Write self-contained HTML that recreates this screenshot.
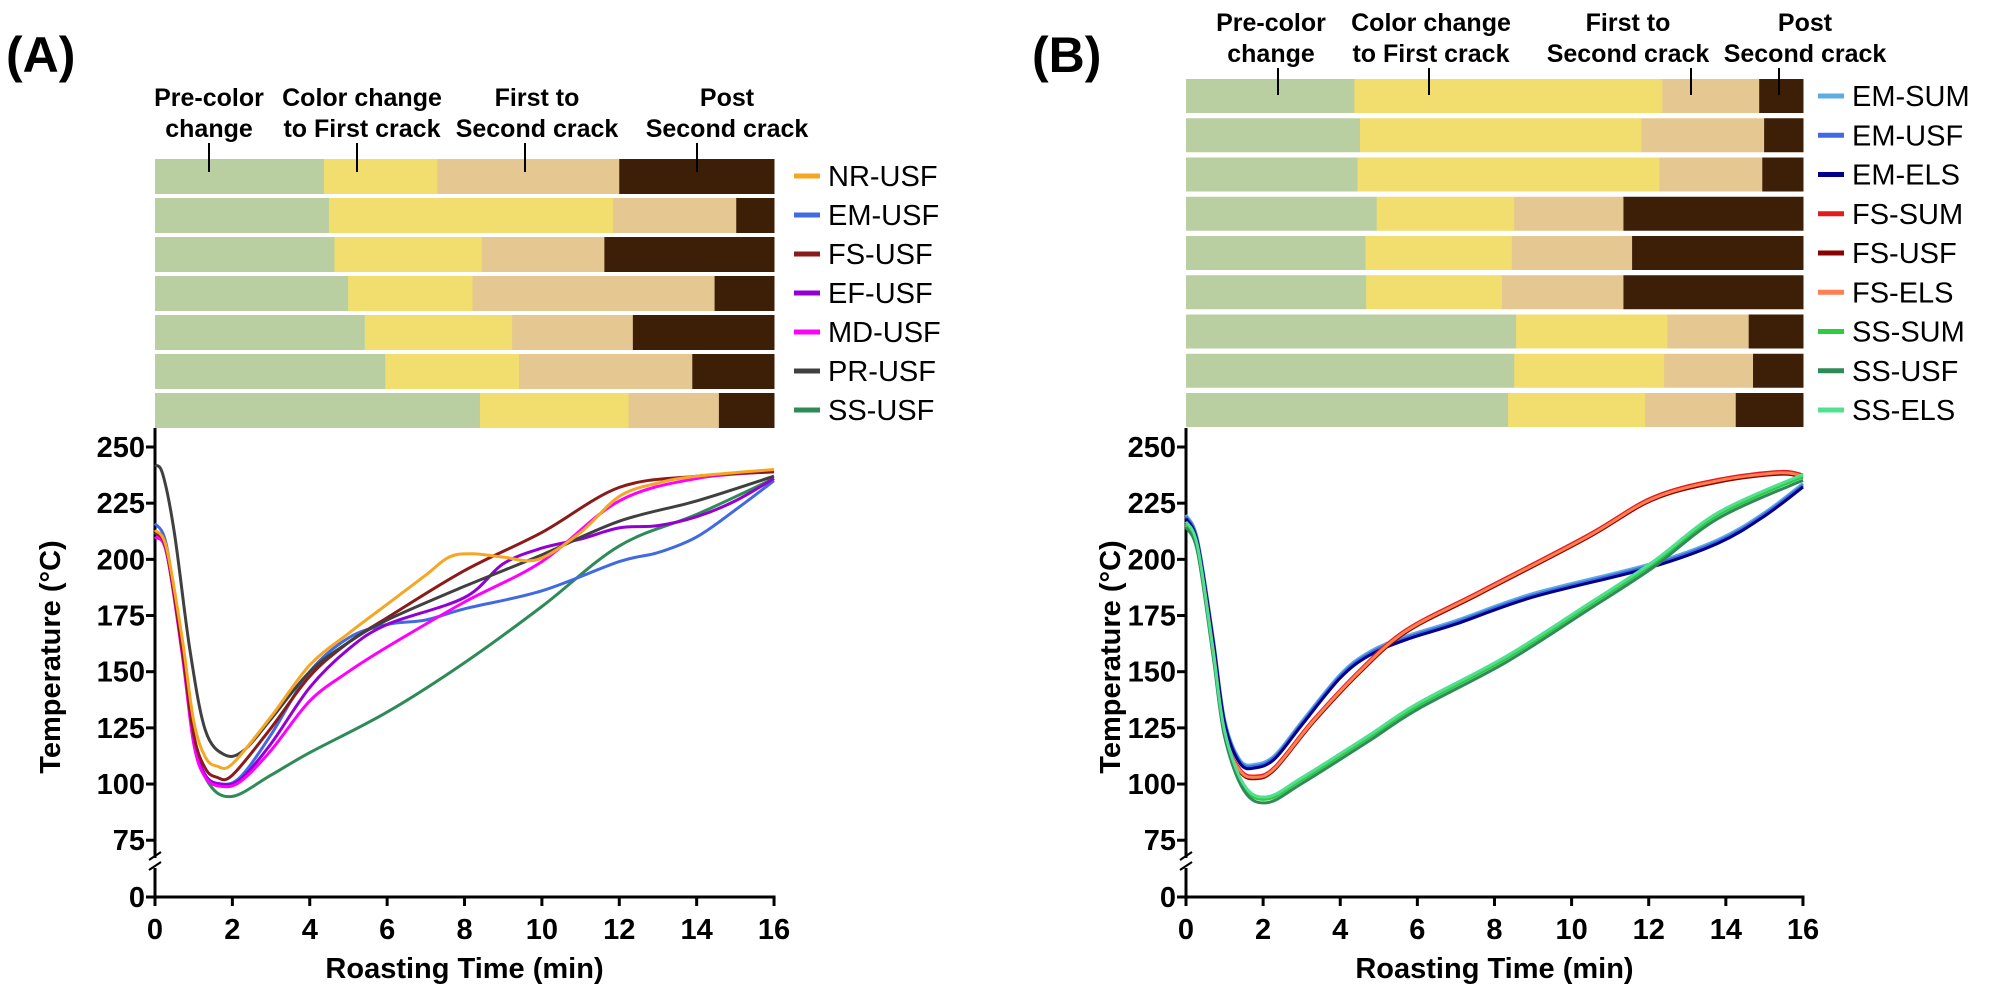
<!DOCTYPE html>
<html><head><meta charset="utf-8">
<style>
html,body{margin:0;padding:0;background:#fff;}
svg{display:block;}
text{font-family:"Liberation Sans",Arial,sans-serif;fill:#000;}
.b{font-weight:bold;}
</style></head>
<body>
<svg id="s" width="2008" height="1000" viewBox="0 0 2008 1000" xmlns="http://www.w3.org/2000/svg">
<rect width="2008" height="1000" fill="#fff"/>
<text x="6" y="72" class="b" font-size="50">(A)</text>
<text x="1032" y="72" class="b" font-size="50">(B)</text>
<g id="g"></g>
</svg>
<script>
const NS="http://www.w3.org/2000/svg";
const g=document.getElementById('g');
function el(t,a,txt){const e=document.createElementNS(NS,t);for(const k in a)e.setAttribute(k,a[k]);if(txt!==undefined)e.textContent=txt;g.appendChild(e);return e;}
const C=['#b9cfa2','#f2de6e','#e5c792','#3d1f08'];
function bars(x0,x1,top,pitch,h,rows){
  const w=x1-x0;
  rows.forEach((r,i)=>{const y=top+i*pitch;let p=[0,...r,1];
    for(let k=0;k<4;k++)el('rect',{x:x0+p[k]*w,y:y,width:(p[k+1]-p[k])*w+0.5,height:h,fill:C[k]});});
}
function cat(pts){let d='M'+pts[0][0].toFixed(1)+','+pts[0][1].toFixed(1);
  for(let i=0;i<pts.length-1;i++){const p0=pts[Math.max(0,i-1)],p1=pts[i],p2=pts[i+1],p3=pts[Math.min(pts.length-1,i+2)];
    const c1=[p1[0]+(p2[0]-p0[0])/6,p1[1]+(p2[1]-p0[1])/6],c2=[p2[0]-(p3[0]-p1[0])/6,p2[1]-(p3[1]-p1[1])/6];
    d+='C'+c1.map(v=>v.toFixed(1))+' '+c2.map(v=>v.toFixed(1))+' '+p2.map(v=>v.toFixed(1));}
  return d;}
function axes(x0,unit,labRight,ylabX){
  const Y=v=>447+(250-v)*2.247;
  el('line',{x1:x0,y1:428,x2:x0,y2:858,stroke:'#000','stroke-width':3});
  el('line',{x1:x0,y1:868,x2:x0,y2:897,stroke:'#000','stroke-width':3});
  el('line',{x1:x0-6,y1:860,x2:x0+6,y2:852,stroke:'#000','stroke-width':2});
  el('line',{x1:x0-6,y1:870,x2:x0+6,y2:862,stroke:'#000','stroke-width':2});
  el('line',{x1:x0-1.5,y1:897,x2:x0+16*unit+1.5,y2:897,stroke:'#000','stroke-width':3});
  [250,225,200,175,150,125,100,75].forEach(v=>{const y=Y(v);el('line',{x1:x0-9,y1:y,x2:x0,y2:y,stroke:'#000','stroke-width':3});
    el('text',{x:labRight,y:y+10,'text-anchor':'end','font-size':29,class:'b'},v);});
  el('line',{x1:x0-9,y1:897,x2:x0,y2:897,stroke:'#000','stroke-width':3});
  el('text',{x:labRight,y:907,'text-anchor':'end','font-size':29,class:'b'},'0');
  for(let t=0;t<=16;t+=2){const x=x0+t*unit;el('line',{x1:x,y1:897,x2:x,y2:906,stroke:'#000','stroke-width':3});
    el('text',{x:x,y:939,'text-anchor':'middle','font-size':29,class:'b'},t);}
  el('text',{x:x0+8*unit,y:978,'text-anchor':'middle','font-size':29,class:'b'},'Roasting Time (min)');
  el('text',{x:0,y:0,'text-anchor':'middle','font-size':29,class:'b',transform:`translate(${ylabX},657) rotate(-90)`},'Temperature (°C)');
  return Y;}
function phaseLabels(centers,ticks,y1,y2,t1,t2){
  const L=[['Pre-color','change'],['Color change','to First crack'],['First to','Second crack'],['Post','Second crack']];
  L.forEach((l,i)=>{el('text',{x:centers[i],y:y1+9,'text-anchor':'middle','font-size':25,class:'b'},l[0]);
    el('text',{x:centers[i],y:y2+9,'text-anchor':'middle','font-size':25,class:'b'},l[1]);
    el('line',{x1:ticks[i],y1:t1,x2:ticks[i],y2:t2,stroke:'#000','stroke-width':2});});}
function legend(x,yc,names,cols,pitch){names.forEach((n,i)=>{const y=yc+i*pitch;
  el('line',{x1:x,y1:y,x2:x+26,y2:y,stroke:cols[i],'stroke-width':5});
  el('text',{x:x+34,y:y+10,'font-size':29},n);});}

// Panel A
bars(155,774,159,39,35,[[0.273,0.456,0.75],[0.281,0.74,0.939],[0.29,0.528,0.726],[0.312,0.513,0.904],[0.339,0.577,0.772],[0.372,0.588,0.868],[0.525,0.765,0.911]]);
phaseLabels([209,362,537,727],[209,357,525,697],97,128,143,172);
const YA=axes(155,38.69,145,60);
const cA=['#f5a623','#4169e1','#8b1a1a','#9400d3','#ff00ff','#404040','#2e8b57'];
legend(794,176,['NR-USF','EM-USF','FS-USF','EF-USF','MD-USF','PR-USF','SS-USF'],cA,39);
const dA=[
[[0,213],[0.3,205],[0.7,165],[1.0,128],[1.3,112],[1.6,108],[2,109],[3,130],[4,153],[5,167],[6,180],[7,193],[7.6,201],[8.2,202.5],[9,201],[9.9,200],[11,212],[12,228],[13,234],[14,237],[16,240]],
[[0,216],[0.3,206],[0.7,160],[1,120],[1.3,104],[1.7,100],[2.2,103],[3,122],[4,150],[5,165],[6,171],[7,173],[8,178],[10,186],[12,199],[13,203],[14,210],[15,222],[16,235]],
[[0,212],[0.3,204],[0.7,160],[1,122],[1.3,107],[1.6,103],[2,104],[3,125],[4,148],[5,163],[6,174],[8,195],[10,212],[12,232],[14,237],[16,239]],
[[0,210],[0.3,203],[0.7,160],[1,120],[1.3,104],[1.7,100],[2.2,102],[3,118],[4,143],[5,160],[6,171],[8,183],[9,198],[10,205],[11,209],[12,214],[13,215],[14,219],[15,226],[16,236]],
[[0,210],[0.3,203],[0.7,158],[1,118],[1.3,103],[1.7,99],[2.2,101],[3,115],[4,137],[5,150],[6,161],[8,181],[10,199],[12,226],[14,236],[16,239]],
[[0,242],[0.2,238],[0.5,212],[0.9,160],[1.3,124],[1.8,113],[2.3,115],[3,129],[4,150],[5,163],[6,173],[8,188],[10,202],[12,217],[14,226],[16,237]],
[[0,212],[0.3,203],[0.7,160],[1,120],[1.4,100],[2,94.5],[3,104],[4,114],[6,132],[8,154],[10,179],[12,206],[14,220],[16,236]]];
[6,1,3,4,2,5,0].forEach(i=>el('path',{d:cat(dA[i].map(p=>[155+p[0]*38.69,YA(p[1])])),fill:'none',stroke:cA[i],'stroke-width':3}));

// Panel B
bars(1186,1803,79,39.25,34,[[0.273,0.772,0.929],[0.282,0.738,0.937],[0.278,0.767,0.934],[0.309,0.532,0.709],[0.291,0.528,0.723],[0.292,0.512,0.709],[0.535,0.78,0.912],[0.532,0.775,0.919],[0.522,0.744,0.891]]);
phaseLabels([1271,1431,1628,1805],[1278,1429,1691,1779],22,53,68,95);
const YB=axes(1186,38.56,1176,1120);
const cB=['#5dade2','#4169e1','#00008b','#e41a1c','#8b0000','#ff7f50','#2ecc40','#2e8b57','#50e090'];
legend(1818,96,['EM-SUM','EM-USF','EM-ELS','FS-SUM','FS-USF','FS-ELS','SS-SUM','SS-USF','SS-ELS'],cB,39.25);
const gEM=[[0,219],[0.3,208],[0.7,165],[1,128],[1.4,110],[1.8,108],[2.3,112],[3,127],[4,148],[4.75,158],[5.7,165],[7,172],[9,184],[12,197],[13.8,208],[15,220],[16,233]];
const gFS=[[0,215],[0.3,205],[0.7,160],[1,122],[1.4,106],[1.8,103],[2.3,107],[3.3,128],[4.5,150],[5.7,168],[7.6,185],[10.4,210],[12.1,227],[13.8,235],[15.4,238.5],[16,237]];
const gSS=[[0,215],[0.3,204],[0.7,158],[1,122],[1.5,98],[2.1,92.5],[3,101],[4.75,120],[6,134],[8.3,155],[10.4,178],[12.1,197],[13.8,219],[16,236]];
const dB=[[gEM,0.8],[gEM,0],[gEM,-0.8],[gFS,0.6],[gFS,-0.6],[gFS,0],[gSS,0.8],[gSS,-0.8],[gSS,1.8]];
dB.forEach((q,i)=>el('path',{d:cat(q[0].map(p=>[1186+p[0]*38.56,YB(p[1]+q[1])])),fill:'none',stroke:cB[i],'stroke-width':3}));
</script>
</body></html>
